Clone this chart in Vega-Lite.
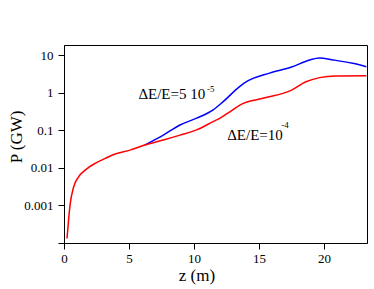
{
  "$schema": "https://vega.github.io/schema/vega-lite/v6.json",
  "width": 303,
  "height": 198,
  "autosize": {"type": "none"},
  "padding": {"left": 64, "top": 45, "right": 7, "bottom": 46},
  "background": "white",
  "config": {
    "font": "Liberation Serif",
    "view": {"stroke": "black", "strokeWidth": 1},
    "axis": {"grid": false, "domainColor": "black", "tickColor": "black", "labelColor": "black", "titleColor": "black", "labelFont": "Liberation Serif", "titleFont": "Liberation Serif", "labelFontSize": 13, "titleFontSize": 17, "titleFontWeight": "normal", "tickSize": 6}
  },
  "datasets": {
    "curves": [
      {"z": 0.23, "P": 0.000132, "s": "a"},
      {"z": 0.3, "P": 0.00025, "s": "a"},
      {"z": 0.35, "P": 0.00041, "s": "a"},
      {"z": 0.48, "P": 0.00112, "s": "a"},
      {"z": 0.74, "P": 0.0031, "s": "a"},
      {"z": 1.12, "P": 0.00575, "s": "a"},
      {"z": 1.63, "P": 0.0087, "s": "a"},
      {"z": 2.4, "P": 0.0132, "s": "a"},
      {"z": 3.17, "P": 0.0178, "s": "a"},
      {"z": 3.93, "P": 0.0234, "s": "a"},
      {"z": 5.08, "P": 0.0295, "s": "a"},
      {"z": 6.2, "P": 0.0403, "s": "a"},
      {"z": 7.64, "P": 0.055, "s": "a"},
      {"z": 8.92, "P": 0.0741, "s": "a"},
      {"z": 10.2, "P": 0.102, "s": "a"},
      {"z": 11.47, "P": 0.17, "s": "a"},
      {"z": 12.0, "P": 0.209, "s": "a"},
      {"z": 12.75, "P": 0.309, "s": "a"},
      {"z": 13.52, "P": 0.468, "s": "a"},
      {"z": 15.3, "P": 0.708, "s": "a"},
      {"z": 17.5, "P": 1.17, "s": "a"},
      {"z": 18.6, "P": 1.95, "s": "a"},
      {"z": 19.65, "P": 2.51, "s": "a"},
      {"z": 20.9, "P": 2.79, "s": "a"},
      {"z": 23.25, "P": 2.82, "s": "a"},
      {"z": 6.2, "P": 0.0403, "s": "b"},
      {"z": 7.64, "P": 0.0741, "s": "b"},
      {"z": 8.92, "P": 0.138, "s": "b"},
      {"z": 10.2, "P": 0.209, "s": "b"},
      {"z": 11.47, "P": 0.347, "s": "b"},
      {"z": 12.24, "P": 0.575, "s": "b"},
      {"z": 13.5, "P": 1.45, "s": "b"},
      {"z": 14.03, "P": 1.95, "s": "b"},
      {"z": 15.8, "P": 3.31, "s": "b"},
      {"z": 17.5, "P": 4.79, "s": "b"},
      {"z": 18.9, "P": 7.41, "s": "b"},
      {"z": 19.65, "P": 8.32, "s": "b"},
      {"z": 20.7, "P": 7.41, "s": "b"},
      {"z": 22.2, "P": 6.03, "s": "b"},
      {"z": 23.25, "P": 4.9, "s": "b"}
    ],
    "labels": [
      {"z": 5.72, "P": 0.935, "t": "ΔE/E=5 10", "k": "main"},
      {"z": 10.99, "P": 1.22, "t": "-5", "k": "sup"},
      {"z": 12.55, "P": 0.0745, "t": "ΔE/E=10", "k": "main"},
      {"z": 16.7, "P": 0.138, "t": "-4", "k": "sup"}
    ]
  },
  "layer": [
    {
      "data": {"name": "curves"},
      "transform": [{"filter": "datum.s === 'b'"}],
      "mark": {"type": "line", "color": "#0000ff", "strokeWidth": 1.5, "interpolate": "monotone", "clip": true},
      "encoding": {
        "x": {"field": "z", "type": "quantitative", "scale": {"domain": [0, 23.3], "nice": false, "zero": false}, "axis": {"values": [0, 5, 10, 15, 20], "title": "z (m)", "labelPadding": 3, "titleX": 132.5, "titleY": 32.5, "titleBaseline": "middle", "titleAlign": "center", "labelFlush": false}},
        "y": {"field": "P", "type": "quantitative", "scale": {"type": "log", "domain": [0.0001, 18.5], "nice": false}, "axis": {"values": [0.0001, 0.001, 0.01, 0.1, 1, 10], "labelExpr": "datum.value < 0.0005 ? '' : format(datum.value, '~g')", "title": "P (GW)", "labelPadding": 5, "titleX": -48, "titleY": 91.5, "titleAngle": -90, "titleBaseline": "middle", "titleAlign": "center", "labelFlush": false}}
      }
    },
    {
      "data": {"name": "curves"},
      "transform": [{"filter": "datum.s === 'a'"}],
      "mark": {"type": "line", "color": "#ff0000", "strokeWidth": 1.5, "interpolate": "monotone", "clip": true},
      "encoding": {
        "x": {"field": "z", "type": "quantitative"},
        "y": {"field": "P", "type": "quantitative"}
      }
    },
    {
      "data": {"name": "labels"},
      "transform": [{"filter": "datum.k === 'main'"}],
      "mark": {"type": "text", "align": "left", "baseline": "middle", "fontSize": 15, "font": "Liberation Serif", "color": "black"},
      "encoding": {
        "x": {"field": "z", "type": "quantitative"},
        "y": {"field": "P", "type": "quantitative"},
        "text": {"field": "t"}
      }
    },
    {
      "data": {"name": "labels"},
      "transform": [{"filter": "datum.k === 'sup'"}],
      "mark": {"type": "text", "align": "left", "baseline": "middle", "fontSize": 9, "font": "Liberation Serif", "color": "black"},
      "encoding": {
        "x": {"field": "z", "type": "quantitative"},
        "y": {"field": "P", "type": "quantitative"},
        "text": {"field": "t"}
      }
    }
  ]
}
